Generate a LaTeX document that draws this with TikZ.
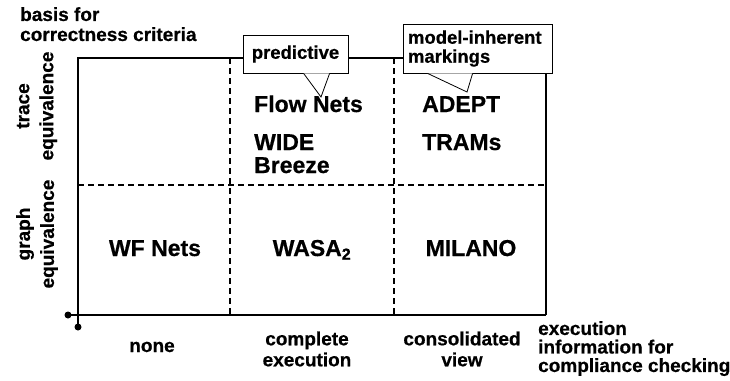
\documentclass[tikz,border=0pt]{standalone}
\usepackage{fontspec}
\setmainfont{Liberation Sans}[BoldFeatures={FakeBold=0.6}]
\usetikzlibrary{calc}
\tikzset{
  axlbl/.style={font=\fontsize{19}{21}\selectfont\bfseries, inner sep=0pt, align=center},
  cell/.style={font=\fontsize{23}{23}\selectfont\bfseries, inner sep=0pt, anchor=base west},
  cellc/.style={font=\fontsize{23}{23}\selectfont\bfseries, inner sep=0pt, anchor=base},
  frame/.style={line width=2pt},
  gridline/.style={line width=2pt, dash pattern=on 6pt off 4pt},
  callbox/.style={draw, line width=0.8pt, fill=white, inner sep=0pt, font=\fontsize{18.5}{19}\selectfont\bfseries},
  callptr/.style={line width=0.8pt},
  dot/.style={circle, fill=black, inner sep=0pt, minimum size=7pt}
}
\begin{document}
\begin{tikzpicture}[x=1pt,y=-1pt]
\useasboundingbox (0,0) rectangle (730,380);
% frame coordinates
\coordinate (tl) at (78,58);
\coordinate (tr) at (546,58);
\coordinate (br) at (546,315);
\coordinate (bl) at (78,315);
\coordinate (d1t) at (230,58);
\coordinate (d1b) at (230,315);
\coordinate (d2t) at (394,58);
\coordinate (d2b) at (394,315);
\coordinate (hl) at (78,185);
\coordinate (hr) at (546,185);
\node[dot] (xdot) at (68,315) {};
\node[dot] (ydot) at (78,327) {};
% frame
\draw[frame] (ydot.center) -- (tl) -- (tr) -- (br);
\draw[frame] (xdot.center) -- (br);
% dashed grid
\draw[gridline] (d1t) -- (d1b);
\draw[gridline] (d2t) -- (d2b);
\draw[gridline] (hl) -- (hr);
% axis labels
\node[axlbl, align=left, anchor=north west, font=\fontsize{19}{20}\selectfont\bfseries] (basis) at (20,7) {basis for\\correctness criteria};
\node[axlbl, rotate=90, font=\fontsize{19}{24}\selectfont\bfseries] (trace) at (37,106) {trace\\equivalence};
\node[axlbl, rotate=90, font=\fontsize{19}{24}\selectfont\bfseries] (graph) at (37,234) {graph\\equivalence};
\node[axlbl, anchor=base] (none) at (152,352) {none};
\node[axlbl] (complete) at (307,349) {complete\\execution};
\node[axlbl] (consol) at (462,349) {consolidated\\view};
\node[axlbl, align=left, anchor=north west, font=\fontsize{19}{18.5}\selectfont\bfseries] (execinfo) at (538,321) {execution\\information for\\compliance checking};
% cells
\node[cell] (flow) at (254,112) {Flow Nets};
\node[cell, align=left, anchor=north west] (wide) at (254,134) {WIDE\\Breeze};
\node[cell] (adept) at (422,112) {ADEPT};
\node[cell] (trams) at (422,150) {TRAMs};
\node[cellc] (wf) at (155,256) {WF Nets};
\node[cellc] (wasa) at (312,256) {WASA\textsubscript{2}};
\node[cellc] (milano) at (471,256) {MILANO};
% callouts
\node[callbox, minimum width=105pt, minimum height=38pt] (pred) at (295.5,54) {predictive};
\coordinate (p1) at ($(pred.south west)+(61,0)$);
\coordinate (p2) at ($(pred.south west)+(87,0)$);
\coordinate (ptip) at (321,97);
\fill[white] (p1) -- (ptip) -- (p2) -- cycle;
\draw[callptr] (p1) -- (ptip) -- (p2);
\node[callbox, minimum width=149pt, minimum height=49pt, align=left, text width=139pt] (model) at (477.5,48.5) {model-inherent\\markings};
\coordinate (m1) at ($(model.south west)+(25,0)$);
\coordinate (m2) at ($(model.south west)+(70,0)$);
\coordinate (mtip) at (467,92);
\fill[white] (m1) -- (mtip) -- (m2) -- cycle;
\draw[callptr] (m1) -- (mtip) -- (m2);
\end{tikzpicture}
\end{document}
